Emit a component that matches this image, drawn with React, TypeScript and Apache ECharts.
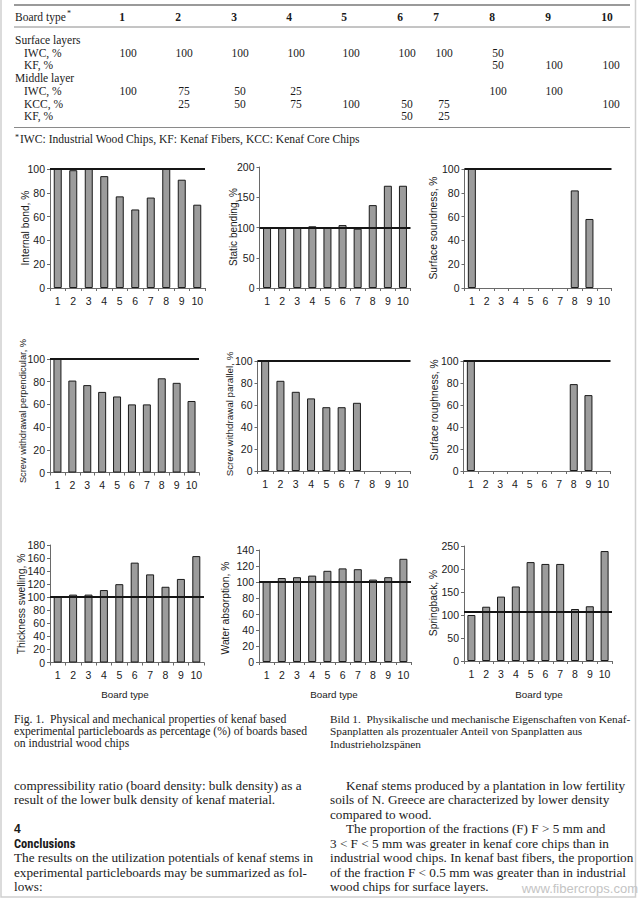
import React, { useEffect, useRef } from 'react';
import * as echarts from 'echarts';

// ---------- DATA ----------
const boardTypes = ['1', '2', '3', '4', '5', '6', '7', '8', '9', '10'];

// Table values (null = empty cell)
const surfaceIWC = [100, 100, 100, 100, 100, 100, 100, 50, null, null];
const surfaceKF = [null, null, null, null, null, null, null, 50, 100, 100];
const middleIWC = [100, 75, 50, 25, null, null, null, 100, 100, null];
const middleKCC = [null, 25, 50, 75, 100, 50, 75, null, null, 100];
const middleKF = [null, null, null, null, null, 50, 25, null, null, null];

// Chart values (% of reference board)
const internalBond = [100, 99, 100, 94, 77, 66, 76, 101, 91, 70];
const staticBending = [100, 99, 100, 102, 100, 104, 98, 137, 169, 169];
const surfaceSoundness = [100, null, null, null, null, null, null, 82, 58, null];
const screwPerpendicular = [100, 81, 77, 71, 67, 60, 60, 83, 79, 63];
const screwParallel = [100, 82, 72, 66, 58, 58, 62, null, null, null];
const surfaceRoughness = [100, null, null, null, null, null, null, 79, 69, null];
const thicknessSwelling = [101, 104, 104, 111, 120, 153, 135, 116, 128, 163];
const waterAbsorption = [100, 105, 106, 108, 114, 117, 116, 103, 106, 129];
const springback = [100, 118, 140, 162, 215, 211, 211, 113, 119, 239];

const chartNames = [
  'Internal bond, %',
  'Static bending, %',
  'Surface soundness, %',
  'Screw withdrawal perpendicular, %',
  'Screw withdrawal parallel, %',
  'Surface roughness, %',
  'Thickness swelling, %',
  'Water absorption, %',
  'Springback, %',
];
const chartSeries = [
  internalBond, staticBending, surfaceSoundness,
  screwPerpendicular, screwParallel, surfaceRoughness,
  thicknessSwelling, waterAbsorption, springback,
];
const axisMax = [100, 200, 100, 100, 100, 100, 180, 140, 250];
const axisInterval = [20, 50, 20, 20, 20, 20, 20, 20, 50];
const referenceValue = [100, 100, 100, 100, 100, 100, 100, 100, 106];

const captionLeft = [
  'Fig. 1.  Physical and mechanical properties of kenaf based',
  'experimental particleboards as percentage (%) of boards based',
  'on industrial wood chips',
];
const captionRight = [
  'Bild 1.  Physikalische und mechanische Eigenschaften von Kenaf-',
  'Spanplatten als prozentualer Anteil von Spanplatten aus',
  'Industrieholzspänen',
];
const bodyLeftTop = [
  'compressibility ratio (board density: bulk density) as a',
  'result of the lower bulk density of kenaf material.',
];
const bodyLeftBottom = [
  'The results on the utilization potentials of kenaf stems in',
  'experimental particleboards may be summarized as fol-',
  'lows:',
];
const bodyRight = [
  'Kenaf stems produced by a plantation in low fertility',
  'soils of N. Greece are characterized by lower density',
  'compared to wood.',
  'The proportion of the fractions (F) F > 5 mm and',
  '3 < F < 5 mm was greater in kenaf core chips than in',
  'industrial wood chips. In kenaf bast fibers, the proportion',
  'of the fraction F < 0.5 mm was greater than in industrial',
  'wood chips for surface layers.',
];
const bodyRightIndent = [true, false, false, true, false, false, false, false];

// ---------- LAYOUT ----------
const serif = "'Liberation Serif','DejaVu Serif','Times New Roman',serif";
const sans = "'Liberation Sans',Arial,'DejaVu Sans',sans-serif";
const ink = '#1a1a1a';

const gridLayout = [
  { left: 50, top: 169, width: 155, height: 119, nx: 25, ny: 228, ns: 10.3 },
  { left: 259.5, top: 167, width: 151, height: 121, nx: 233, ny: 227, ns: 10 },
  { left: 464.5, top: 169, width: 147, height: 119, nx: 433, ny: 228, ns: 10.3 },
  { left: 50, top: 359, width: 149, height: 113.5, nx: 22.5, ny: 411, ns: 9.3 },
  { left: 257.5, top: 361, width: 153, height: 110, nx: 229, ny: 414, ns: 9.8 },
  { left: 463.5, top: 361, width: 147, height: 110, nx: 434, ny: 410, ns: 10.3 },
  { left: 50, top: 545, width: 154, height: 117.5, nx: 21.5, ny: 604, ns: 10.3 },
  { left: 259, top: 550, width: 152, height: 112, nx: 225, ny: 608, ns: 10.3 },
  { left: 464, top: 546, width: 148, height: 115, nx: 433, ny: 603, ns: 10.3 },
];
const boardTypeLabelX = [125, 334, 539];

const headerX = [122, 178, 234, 289, 344, 400, 436, 492, 548, 607];
const valueX = [128, 184, 240, 296, 351, 407, 444, 498, 554, 611];

function txt(text: string, x: number, y: number, o: any = {}) {
  return {
    type: 'text',
    x,
    y,
    rotation: o.rot || 0,
    silent: true,
    style: {
      text,
      font: `${o.weight || 'normal'} ${o.size || 11}px ${o.family || serif}`,
      fill: o.color || ink,
      textAlign: o.align || 'left',
      textVerticalAlign: 'middle',
    },
  };
}

function hline(x1: number, x2: number, y: number, w: number, c: string) {
  return { type: 'line', silent: true, shape: { x1, y1: y, x2, y2: y }, style: { stroke: c, lineWidth: w } };
}

function buildGraphics() {
  const g: any[] = [];
  // page frame
  g.push({ type: 'rect', silent: true, shape: { x: 1, y: -2, width: 634.5, height: 899 }, style: { fill: 'none', stroke: '#cfcfcf', lineWidth: 1.5 } });

  // table
  const ts = 11.5;
  g.push(hline(14, 630, 5, 2.2, '#9a9a9a'));
  g.push(txt('Board type', 15, 16.5, { size: ts }));
  g.push(txt('*', 67, 13, { size: 8 }));
  boardTypes.forEach((b, i) => g.push(txt(b, headerX[i], 16.5, { size: ts, weight: 'bold', align: 'center' })));
  g.push(hline(14, 630, 27, 1, '#8a8a8a'));

  const rows: { label: string; indent: boolean; y: number; vals: (number | null)[] | null }[] = [
    { label: 'Surface layers', indent: false, y: 39.5, vals: null },
    { label: 'IWC, %', indent: true, y: 52.5, vals: surfaceIWC },
    { label: 'KF, %', indent: true, y: 65, vals: surfaceKF },
    { label: 'Middle layer', indent: false, y: 78, vals: null },
    { label: 'IWC, %', indent: true, y: 91, vals: middleIWC },
    { label: 'KCC, %', indent: true, y: 103.5, vals: middleKCC },
    { label: 'KF, %', indent: true, y: 116, vals: middleKF },
  ];
  rows.forEach((r) => {
    g.push(txt(r.label, r.indent ? 24 : 15, r.y, { size: ts }));
    if (r.vals) {
      r.vals.forEach((v, i) => {
        if (v !== null) g.push(txt(String(v), valueX[i], r.y, { size: ts, align: 'center' }));
      });
    }
  });
  g.push(hline(14, 630, 127.5, 1, '#8a8a8a'));
  g.push(txt('*', 15, 137, { size: 8 }));
  g.push(txt('IWC: Industrial Wood Chips, KF: Kenaf Fibers, KCC: Kenaf Core Chips', 20, 139.5, { size: 11.6 }));

  // axis names
  gridLayout.forEach((l, i) => {
    g.push(txt(chartNames[i], l.nx, l.ny, { size: l.ns, family: sans, align: 'center', rot: Math.PI / 2 }));
  });
  boardTypeLabelX.forEach((x) => g.push(txt('Board type', x, 694, { size: 9.8, family: sans, align: 'center' })));

  // captions
  captionLeft.forEach((t, i) => g.push(txt(t, 14, 719 + i * 12.3, { size: 11.7 })));
  captionRight.forEach((t, i) => g.push(txt(t, 330, 719 + i * 12.3, { size: 11.3 })));

  // body text
  const lh = 14.5;
  const bs = 13.2;
  bodyLeftTop.forEach((t, i) => g.push(txt(t, 14, 785 + i * lh, { size: bs })));
  g.push(txt('4', 14, 785 + 3 * lh, { size: 12, weight: 'bold', family: sans }));
  g.push(txt('Conclusions', 14, 785 + 4 * lh, { size: 12.5, weight: 'bold', family: "'Liberation Sans Narrow','Roboto Condensed'," + sans }));
  bodyLeftBottom.forEach((t, i) => g.push(txt(t, 14, 785 + (5 + i) * lh, { size: bs })));
  bodyRight.forEach((t, i) => g.push(txt(t, bodyRightIndent[i] ? 346 : 330, 785 + i * lh, { size: bs })));

  // watermark
  g.push(txt('www.fibercrops.com', 638, 888, { size: 13, family: sans, color: '#c4c4c4', align: 'right' }));
  return g;
}

export default function App() {
  const ref = useRef<HTMLDivElement>(null);
  useEffect(() => {
    if (!ref.current) return;
    const chart = echarts.init(ref.current, null, { renderer: 'svg' });
    const axisColor = '#6a6a6a';
    const grid = gridLayout.map((l) => ({ left: l.left, top: l.top, width: l.width, height: l.height }));
    const xAxis = gridLayout.map((_, i) => ({
      gridIndex: i,
      type: 'category',
      data: boardTypes,
      boundaryGap: true,
      axisLine: { show: true, lineStyle: { color: axisColor, width: 1 } },
      axisTick: { show: true, length: 3, lineStyle: { color: axisColor } },
      axisLabel: { color: ink, fontSize: 10.5, fontFamily: sans, margin: 7, interval: 0 },
      splitLine: { show: false },
    }));
    const yAxis = gridLayout.map((_, i) => ({
      gridIndex: i,
      type: 'value',
      min: 0,
      max: axisMax[i],
      interval: axisInterval[i],
      axisLine: { show: true, lineStyle: { color: axisColor, width: 1 } },
      axisTick: { show: true, length: 3, lineStyle: { color: axisColor } },
      axisLabel: { color: ink, fontSize: 10.5, fontFamily: sans, margin: 5 },
      splitLine: { show: false },
    }));
    const series = chartSeries.map((d, i) => ({
      type: 'bar',
      xAxisIndex: i,
      yAxisIndex: i,
      data: d,
      barWidth: 8,
      itemStyle: { color: '#9c9c9c', borderColor: '#1a1a1a', borderWidth: 1 },
      markLine: {
        silent: true,
        symbol: 'none',
        label: { show: false },
        lineStyle: { color: '#151515', width: 1.8, type: 'solid' },
        data: [{ yAxis: referenceValue[i] }],
      },
    }));
    chart.setOption({
      animation: false,
      backgroundColor: '#ffffff',
      grid,
      xAxis,
      yAxis,
      series,
      graphic: buildGraphics(),
    });
    return () => chart.dispose();
  }, []);
  return (
    <div
      ref={ref}
      style={{ position: 'absolute', left: 0, top: 0, width: 640, height: 900, background: '#fff' }}
    />
  );
}
